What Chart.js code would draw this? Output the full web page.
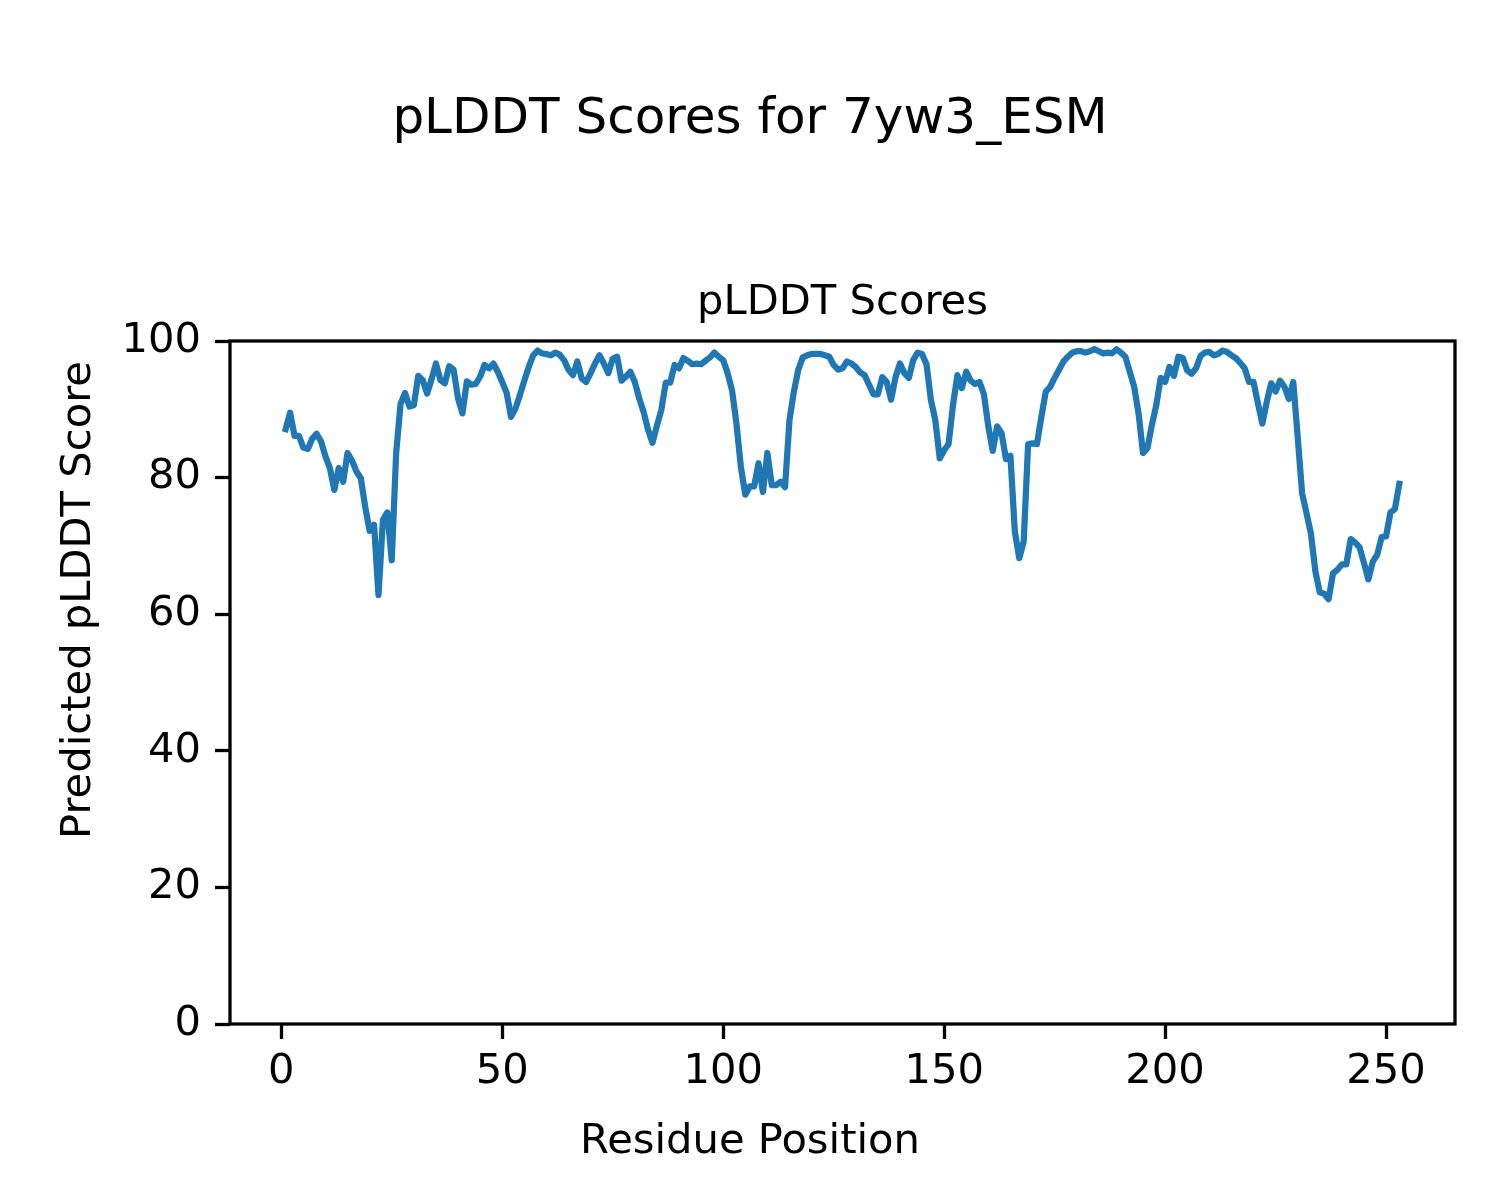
<!DOCTYPE html>
<html lang="en">
<head>
    <meta charset="UTF-8">
    <title>pLDDT Scores for 7yw3_ESM</title>
    <script src="https://cdn.jsdelivr.net/npm/chart.js"></script>
    <style>
        body { margin: 0; background: #fff; }
        .chart-container { width: 1500px; height: 1200px; }
    </style>
</head>
<body>
    <div class="chart-container"><canvas id="plddt" width="1500" height="1200"></canvas></div>
    <script>
        // labels
        const figTitle = 'pLDDT Scores for 7yw3_ESM';
        const axesTitle = 'pLDDT Scores';
        const xLabel = 'Residue Position';
        const yLabel = 'Predicted pLDDT Score';

        // tick labels
        const xTicks = [0, 50, 100, 150, 200, 250];
        const yTicks = [0, 20, 40, 60, 80, 100];

        // pLDDT per residue, residue 1 first
        const scores = [
            87.1, 89.5, 86.1, 86.1, 84.4, 84.2, 85.7, 86.4, 85.3, 83.1,
            81.4, 78.2, 81.4, 79.4, 83.6, 82.5, 80.9, 79.9, 75.7, 72.2,
            73.1, 62.8, 73.8, 74.9, 67.9, 83.6, 90.8, 92.4, 90.4, 90.6,
            94.9, 94.3, 92.3, 94.4, 96.7, 94.3, 93.8, 96.3, 95.8, 91.6,
            89.4, 94.1, 93.6, 93.7, 94.8, 96.5, 96.0, 96.7, 95.5, 94.0,
            92.4, 88.9, 90.1, 92.1, 94.2, 96.2, 97.9, 98.6, 98.2, 98.1,
            97.9, 98.3, 98.0, 97.2, 95.8, 95.0, 97.0, 94.5, 94.0, 95.3,
            96.7, 97.9, 96.7, 95.3, 97.4, 97.7, 94.2, 94.8, 95.5, 94.0,
            91.6, 89.6, 87.0, 85.1, 87.6, 89.9, 93.9, 93.9, 96.5, 96.0,
            97.5, 97.1, 96.6, 96.7, 96.6, 97.1, 97.6, 98.3, 97.7, 97.2,
            95.3, 92.8, 87.9, 81.6, 77.5, 78.7, 78.7, 82.1, 77.9, 83.6,
            78.9, 78.9, 79.4, 78.6, 88.4, 92.6, 95.8, 97.6, 97.9, 98.1,
            98.1, 98.1, 97.9, 97.7, 96.5, 95.8, 96.0, 97.0, 96.7, 96.2,
            95.4, 95.0, 93.6, 92.2, 92.2, 94.7, 94.0, 91.4, 94.7, 96.7,
            95.3, 94.6, 97.2, 98.3, 98.1, 96.6, 91.4, 88.4, 82.8, 84.0,
            84.9, 90.6, 95.0, 93.1, 95.5, 94.2, 93.7, 94.0, 92.2, 87.5,
            83.9, 87.5, 86.5, 82.7, 83.2, 72.1, 68.2, 70.6, 84.9, 85.0,
            84.9, 88.9, 92.6, 93.3, 94.6, 95.8, 97.0, 97.7, 98.3, 98.5,
            98.5, 98.3, 98.5, 98.8, 98.5, 98.2, 98.3, 98.2, 98.8, 98.3,
            97.7, 95.5, 93.3, 89.4, 83.6, 84.3, 87.7, 90.6, 94.6, 94.0,
            96.2, 94.9, 97.7, 97.5, 95.7, 95.2, 96.0, 97.8, 98.3, 98.4,
            97.9, 98.1, 98.6, 98.4, 97.9, 97.5, 96.8, 96.0, 94.0, 94.0,
            90.9, 87.9, 91.1, 93.8, 92.6, 94.2, 93.3, 91.5, 94.0, 86.0,
            77.7, 74.8, 71.8, 66.3, 63.2, 63.0, 62.2, 66.0, 66.5, 67.3,
            67.3, 71.0, 70.5, 69.8, 67.5, 65.1, 67.7, 68.7, 71.3, 71.4,
            74.9, 75.4, 79.1
        ];
        const residues = scores.map((_, i) => i + 1);

        const FONT = '"DejaVu Sans", sans-serif';
        const TICK_PX = 41.67;

        // matplotlib-style frame + figure-level texts
        const mplDecor = {
            id: 'mplDecor',
            afterDatasetsDraw(chart) {
                const { ctx, chartArea: a } = chart;
                ctx.save();
                ctx.strokeStyle = '#000';
                ctx.lineWidth = 3.3;
                ctx.strokeRect(a.left, a.top, a.right - a.left, a.bottom - a.top);
                ctx.restore();
            },
            afterDraw(chart) {
                const { ctx, chartArea: a } = chart;
                ctx.save();
                ctx.fillStyle = '#000';
                ctx.textAlign = 'center';
                ctx.textBaseline = 'alphabetic';
                ctx.font = '50px ' + FONT;
                ctx.fillText(figTitle, 750, 133);
                ctx.font = TICK_PX + 'px ' + FONT;
                ctx.fillText(axesTitle, (a.left + a.right) / 2, 314);
                ctx.fillText(xLabel, 750, 1153);
                ctx.translate(90, 600);
                ctx.rotate(-Math.PI / 2);
                ctx.fillText(yLabel, 0, 0);
                ctx.restore();
            }
        };

        const tickGrid = {
            drawOnChartArea: false,
            drawTicks: true,
            tickLength: 15,
            tickWidth: 3.3,
            tickColor: '#000',
            color: '#000'
        };

        new Chart(document.getElementById('plddt'), {
            type: 'line',
            data: {
                datasets: [{
                    data: residues.map((x, i) => ({ x: x, y: scores[i] })),
                    borderColor: '#1f77b4',
                    borderWidth: 6.25,
                    borderJoinStyle: 'round',
                    borderCapStyle: 'square',
                    pointRadius: 0,
                    tension: 0,
                    fill: false
                }]
            },
            options: {
                responsive: false,
                animation: false,
                events: [],
                layout: { padding: { top: 341, left: 0, right: 45, bottom: 76 } },
                plugins: {
                    legend: { display: false },
                    tooltip: { enabled: false },
                    title: { display: false }
                },
                scales: {
                    x: {
                        type: 'linear',
                        min: -11.6,
                        max: 265.6,
                        afterBuildTicks: s => { s.ticks = xTicks.map(v => ({ value: v })); },
                        afterFit: s => { s.height = 100; },
                        grid: tickGrid,
                        border: { display: false },
                        ticks: {
                            color: '#000',
                            padding: 8,
                            maxRotation: 0,
                            font: { family: FONT, size: TICK_PX }
                        }
                    },
                    y: {
                        min: 0,
                        max: 100,
                        afterBuildTicks: s => { s.ticks = yTicks.map(v => ({ value: v })); },
                        afterFit: s => { s.width = 230; },
                        grid: tickGrid,
                        border: { display: false },
                        ticks: {
                            color: '#000',
                            padding: 14,
                            font: { family: FONT, size: TICK_PX }
                        }
                    }
                }
            },
            plugins: [mplDecor]
        });
    </script>
</body>
</html>
